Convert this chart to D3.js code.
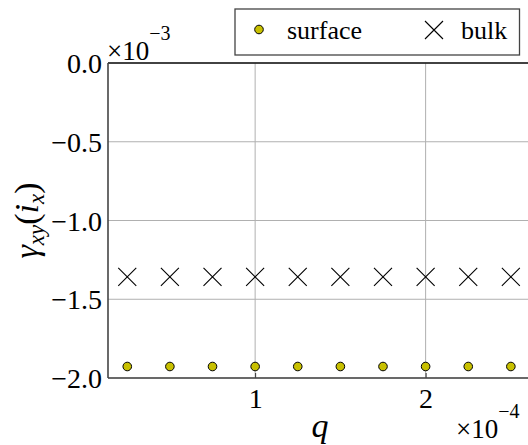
<!DOCTYPE html>
<html>
<head>
<meta charset="utf-8">
<script src="https://cdn.jsdelivr.net/npm/d3@7/dist/d3.min.js"></script>
<style>
html,body{margin:0;padding:0;background:#fff;}
svg{display:block;}
svg text{font-family:'Liberation Serif','Tinos','Times New Roman','Times','DejaVu Serif',serif !important;fill:#000;}
</style>
</head>
<body>
<svg id="chart" width="528" height="445"></svg>
<script>
// q values (in units of 1e-4)
const qValues = [0.25, 0.5, 0.75, 1.0, 1.25, 1.5, 1.75, 2.0, 2.25, 2.5];
// gamma_xy values (in units of 1e-3)
const surfaceValues = [-1.927, -1.927, -1.927, -1.927, -1.927, -1.927, -1.927, -1.927, -1.927, -1.927];
const bulkValues = [-1.358, -1.358, -1.358, -1.358, -1.358, -1.358, -1.358, -1.358, -1.358, -1.358];
const xTicks = [1, 2];
const yTicks = [0.0, -0.5, -1.0, -1.5, -2.0];
const seriesNames = ["surface", "bulk"];

(function () {
const FONT = "'Liberation Serif','Tinos','Times New Roman','DejaVu Serif',serif";
const svg = d3.select("#chart").attr("font-family", FONT);
const pL = 108, pR = 532, pT = 63, pB = 378;

const x = d3.scaleLinear().domain([0.137, 2.624]).range([pL, pR]);
const y = d3.scaleLinear().domain([-2.0, 0.0]).range([pB, pT]);

// grid
const grid = svg.append("g");
grid.selectAll("line.gx").data(xTicks).enter().append("line")
  .attr("x1", d => x(d)).attr("x2", d => x(d))
  .attr("y1", pT).attr("y2", pB)
  .attr("stroke", "#b0b0b0").attr("stroke-width", 1);
grid.selectAll("line.gy").data(yTicks).enter().append("line")
  .attr("x1", pL).attr("x2", pR)
  .attr("y1", d => y(d)).attr("y2", d => y(d))
  .attr("stroke", "#b0b0b0").attr("stroke-width", 1);

// axes
const fmt = d => (d < 0 ? "\u2212" : "") + Math.abs(d).toFixed(1);
const yAxis = d3.axisLeft(y).tickValues(yTicks).tickFormat(fmt).tickSize(0).tickPadding(6);
const gy = svg.append("g").attr("transform", `translate(${pL},0)`).call(yAxis).attr("font-family", FONT);
gy.select(".domain").remove();
gy.selectAll("text").attr("font-size", 28).attr("dy", "0.34em");

const xAxis = d3.axisBottom(x).tickValues(xTicks).tickFormat(d3.format("d")).tickSize(-5).tickPadding(10);
const gx = svg.append("g").attr("transform", `translate(0,${pB})`).call(xAxis).attr("font-family", FONT);
gx.select(".domain").remove();
gx.selectAll(".tick line").attr("stroke", "#333");
gx.selectAll("text").attr("font-size", 28);

// spines
svg.append("line").attr("x1", pL).attr("x2", pR).attr("y1", pT).attr("y2", pT).attr("stroke", "#111").attr("stroke-width", 1.6);
svg.append("line").attr("x1", pL).attr("x2", pR).attr("y1", pB).attr("y2", pB).attr("stroke", "#444").attr("stroke-width", 1.6);
svg.append("line").attr("x1", pL).attr("x2", pL).attr("y1", pT).attr("y2", pB).attr("stroke", "#444").attr("stroke-width", 1.6);

// data: bulk (x markers)
const xs = 9;
const bulkG = svg.append("g");
qValues.forEach((q, i) => {
  const cx = x(q), cy = y(bulkValues[i]);
  bulkG.append("path")
    .attr("d", `M${cx - xs},${cy - xs}L${cx + xs},${cy + xs}M${cx - xs},${cy + xs}L${cx + xs},${cy - xs}`)
    .attr("stroke", "#000").attr("stroke-width", 1.1).attr("fill", "none");
});
// data: surface (circles)
svg.append("g").selectAll("circle").data(qValues).enter().append("circle")
  .attr("cx", d => x(d)).attr("cy", (d, i) => y(surfaceValues[i]))
  .attr("r", 4.3).attr("fill", "#c8c000").attr("stroke", "#000").attr("stroke-width", 1);

// exponent labels
const e1 = svg.append("text").attr("x", 107).attr("y", 60).attr("font-size", 27);
e1.append("tspan").text("\u00d710");
e1.append("tspan").attr("dy", -20).attr("font-size", 20).text("\u22123");

const e2 = svg.append("text").attr("x", 456).attr("y", 438).attr("font-size", 27);
e2.append("tspan").text("\u00d710");
e2.append("tspan").attr("dy", -20).attr("font-size", 20).text("\u22124");

// axis labels
svg.append("text").attr("x", 320).attr("y", 437).attr("text-anchor", "middle")
  .attr("font-size", 34).attr("font-style", "italic").text("q");

const yl = svg.append("text")
  .attr("transform", `translate(38,${(pT + pB) / 2}) rotate(-90)`)
  .attr("text-anchor", "middle").attr("font-size", 34);
yl.append("tspan").attr("font-style", "italic").text("\u03b3");
yl.append("tspan").attr("dy", 6).attr("font-size", 23).attr("font-style", "italic").text("xy");
yl.append("tspan").attr("dy", -6).text("(");
yl.append("tspan").attr("font-style", "italic").text("i");
yl.append("tspan").attr("dy", 6).attr("font-size", 23).attr("font-style", "italic").text("x");
yl.append("tspan").attr("dy", -6).text(")");

// legend
const lg = svg.append("g");
lg.append("rect").attr("x", 235).attr("y", 9).attr("width", 284.5).attr("height", 46)
  .attr("fill", "#fff").attr("stroke", "#444").attr("stroke-width", 1.3);
lg.append("circle").attr("cx", 259).attr("cy", 29.5).attr("r", 4.3)
  .attr("fill", "#c8c000").attr("stroke", "#000").attr("stroke-width", 1);
lg.append("text").attr("x", 287).attr("y", 39).attr("font-size", 26).text(seriesNames[0]);
const lx = 434, ly = 30;
lg.append("path")
  .attr("d", `M${lx - xs},${ly - xs}L${lx + xs},${ly + xs}M${lx - xs},${ly + xs}L${lx + xs},${ly - xs}`)
  .attr("stroke", "#000").attr("stroke-width", 1.1);
lg.append("text").attr("x", 461).attr("y", 39).attr("font-size", 26).text(seriesNames[1]);
})();
</script>
</body>
</html>
